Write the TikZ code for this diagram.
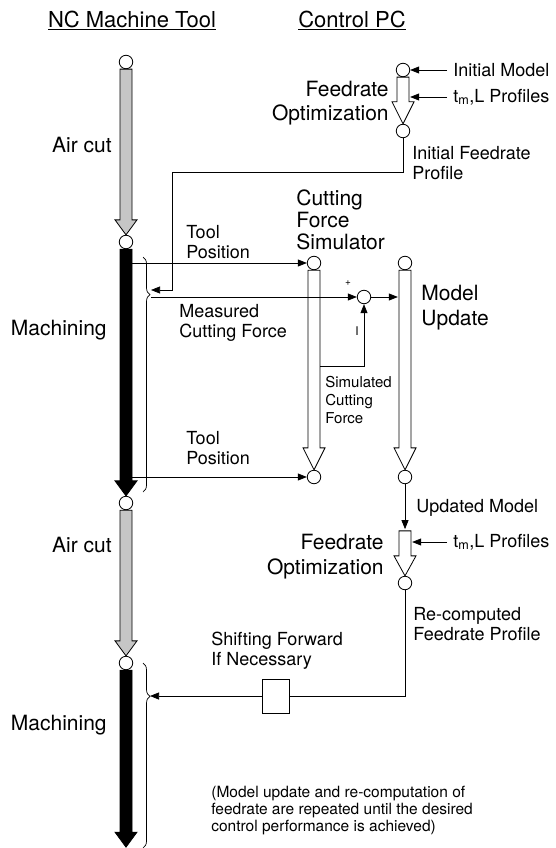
\documentclass[tikz,border=0pt]{standalone}
\usepackage{fontspec}
\setmainfont{TeX Gyre Heros}
\usetikzlibrary{shapes, arrows.meta, positioning, calc, decorations.pathreplacing}
\tikzstyle{pt} = [circle, draw, fill=white, minimum size=13.5pt, inner sep=0pt, line width=0.8pt]
\tikzstyle{sig} = [-{Triangle[length=9pt,width=7pt]}, line width=0.7pt]
\tikzstyle{lbl} = [inner sep=0pt, align=left]
\tikzstyle{brc} = [decorate, line width=0.7pt]
\newcommand{\lbltitle}{\fontsize{22}{24}\selectfont}
\newcommand{\lblbig}{\fontsize{21}{23}\selectfont}
\newcommand{\lblmid}{\fontsize{18}{20}\selectfont}
\newcommand{\lblnote}{\fontsize{15.5}{17}\selectfont}
\newcommand{\lblsim}{\fontsize{15}{18}\selectfont}
% wide block arrow: fill, head length, from node, to node
\newcommand{\fatarrow}[4]{%
	\draw[fill=#1, line width=0.8pt] ([xshift=-6pt]#3.south) -- ([xshift=-6pt,yshift=#2]#4.north)
	-- ([xshift=-11pt,yshift=#2]#4.north) -- (#4.north)
	-- ([xshift=11pt,yshift=#2]#4.north) -- ([xshift=6pt,yshift=#2]#4.north)
	-- ([xshift=6pt]#3.south) -- cycle;}

\begin{document}
\begin{tikzpicture}[x=1pt, y=-1pt, line width=0.7pt]
		\useasboundingbox (0,0) rectangle (555,848);
		
		\node [lbl, font=\lbltitle] (nctitle) at (132,20) {\underline{NC Machine Tool}};
		\node [lbl, font=\lbltitle] (pctitle) at (352,20) {\underline{Control PC}};
		
		% machine tool time line
		\node [pt] (c1) at (126,62) {};
		\node [pt] (c2) at (126,242) {};
		\node [pt] (c3) at (126,503) {};
		\node [pt] (c4) at (126,663) {};
		\node [inner sep=0pt] (mend) at (126,848) {};
		\fatarrow{gray!45}{15pt}{c1}{c2}
		\fatarrow{black}{15pt}{c2}{c3}
		\fatarrow{gray!45}{15pt}{c3}{c4}
		\fatarrow{black}{15pt}{c4}{mend}
		
		\node [lbl, font=\lblbig, anchor=east] (air1) at (112,145) {Air cut};
		\node [lbl, font=\lblbig, anchor=east] (mach1) at (107,330) {Machining};
		\node [lbl, font=\lblbig, anchor=east] (air2) at (112,545) {Air cut};
		\node [lbl, font=\lblbig, anchor=east] (mach2) at (107,725) {Machining};
		
		\draw [brc, decoration={brace, amplitude=7pt, aspect=0.16}] (143,257) -- (143,492);
		\draw [brc, decoration={brace, amplitude=7pt, aspect=0.18}] (143,663) -- (143,848);
		
		% first feedrate optimization
		\node [pt] (fo1a) at (403,70) {};
		\node [pt] (fo1b) at (403,131) {};
		\fatarrow{white}{22pt}{fo1a}{fo1b}
		\node [lbl, font=\fontsize{21}{24}\selectfont, align=right, anchor=north east] (fo1) at (389,81) {Feedrate\\Optimization};
		\node [lbl, font=\lblmid, anchor=west] (im) at (453,70) {Initial Model};
		\node [lbl, font=\lblmid, anchor=west] (tl1) at (453,97) {t\textsubscript{m},L Profiles};
		\node [lbl, font=\lblmid, anchor=north west] (ifp) at (412,146) {Initial Feedrate\\Profile};
		\draw [sig, shorten <=6pt] (im.west) -- (fo1a.east);
		\draw [sig, shorten <=6pt] (tl1.west) -- (tl1.west -| fo1a.east);
		
		% cutting force simulator and model update
		\node [pt] (cfs1) at (314,263) {};
		\node [pt] (cfs2) at (314,477) {};
		\fatarrow{white}{22pt}{cfs1}{cfs2}
		\node [lbl, font=\fontsize{21}{22}\selectfont, anchor=north west] (cfs) at (296,189) {Cutting\\Force\\Simulator};
		
		\node [pt] (mu1) at (405,263) {};
		\node [pt] (mu2) at (405,477) {};
		\fatarrow{white}{22pt}{mu1}{mu2}
		\node [lbl, font=\fontsize{21}{25}\selectfont, anchor=north west] (mu) at (421,285) {Model\\Update};
		
		\node [pt] (sum) at (364,297) {};
		\node [lbl, font=\fontsize{10}{10}\selectfont] (plus) at (348,283) {+};
		\node [lbl, font=\fontsize{12}{12}\selectfont] (minus) at (357,331) {I};
		
		\coordinate (tp1) at (132,263);
		\coordinate (tp2) at (132,477);
		\coordinate (b1in) at (151,290);
		\coordinate (b1out) at (151,297);
		\coordinate (ifpc) at (172,172);
		\coordinate (simf) at (320,366);
		
		\draw [sig] (tp1) -- (cfs1.west);
		\draw [sig] (tp2) -- (cfs2.west);
		\draw [sig] (b1out) -- (sum.west);
		\draw [sig] (sum.east) -- (sum.east -| mu1.west);
		\draw [sig] (simf) -| (sum.south);
		\draw [sig] (fo1b.south) |- (ifpc) |- (b1in);
		
		\node [lbl, font=\lblmid, anchor=north west] (tpl1) at (186,225) {Tool\\Position};
		\node [lbl, font=\lblmid, anchor=north west] (tpl2) at (186,431) {Tool\\Position};
		\node [lbl, font=\lblmid, anchor=north west] (mcf) at (179,304) {Measured\\Cutting Force};
		\node [lbl, font=\lblsim, anchor=north west] (scf) at (325,376) {Simulated\\Cutting\\Force};
		
		% re-computation of feedrate
		\node [inner sep=0pt] (fo2a) at (405,530) {};
		\node [pt] (fo2b) at (405,583) {};
		\fatarrow{white}{20pt}{fo2a}{fo2b}
		\draw [sig] (mu2.south) -- (fo2a);
		\node [lbl, font=\lblmid, anchor=west] (um) at (416,508) {Updated Model};
		\node [lbl, font=\fontsize{21}{25}\selectfont, align=right, anchor=north east] (fo2) at (384,534) {Feedrate\\Optimization};
		\node [lbl, font=\lblmid, anchor=west] (tl2) at (453,542) {t\textsubscript{m},L Profiles};
		\draw [sig, shorten <=6pt] (tl2.west) -- (tl2.west -| fo2b.east);
		\node [lbl, font=\lblmid, anchor=north west] (rfp) at (413,607) {Re-computed\\Feedrate Profile};
		
		\node [draw, minimum width=27pt, minimum height=34pt, inner sep=0pt] (shift) at (276,696) {};
		\node [lbl, font=\lblmid, anchor=north west] (sfl) at (211,632) {Shifting Forward\\If Necessary};
		\coordinate (b2in) at (150,696);
		\draw (fo2b.south) |- (shift.east);
		\draw [sig] (shift.west) -- (b2in);
		
		\node [lbl, font=\lblnote, anchor=north west] (note) at (211,786) {(Model update and re-computation of\\feedrate are repeated until the desired\\control performance is achieved)};
		
	\end{tikzpicture}
\end{document}
